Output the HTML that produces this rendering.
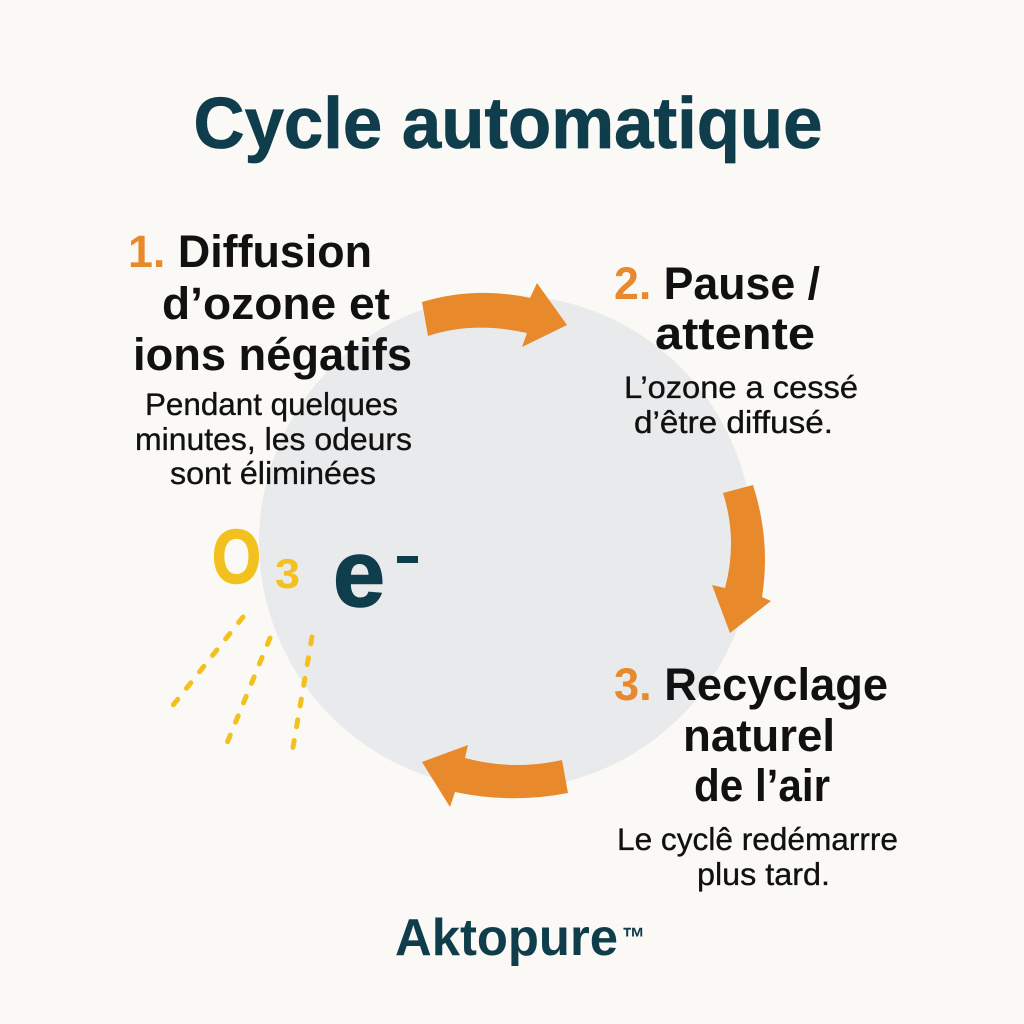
<!DOCTYPE html>
<html>
<head>
<meta charset="utf-8">
<style>
  html,body{margin:0;padding:0;background:#faf9f6;}
  svg{display:block;}
  .h{font-family:"Liberation Sans",Arial,sans-serif;font-weight:bold;font-size:45px;fill:#111;}
  .s{font-family:"Liberation Sans",Arial,sans-serif;font-size:31.5px;fill:#111;stroke:#111;stroke-width:0.35px;}
  .o{fill:#e8892b;}
</style>
</head>
<body>
<svg width="1024" height="1024" viewBox="0 0 1024 1024" xmlns="http://www.w3.org/2000/svg">
  <rect x="0" y="0" width="1024" height="1024" fill="#faf9f6"/>
  <!-- central circle -->
  <circle cx="506" cy="542" r="247" fill="#e9eaec"/>

  <!-- title -->
  <text x="508" y="148" text-anchor="middle" textLength="629" lengthAdjust="spacingAndGlyphs"
        style="font-family:'Liberation Sans',Arial,sans-serif;font-weight:bold;font-size:72px;fill:#0f3d4c;stroke:#0f3d4c;stroke-width:0.8px;">Cycle automatique</text>

  <!-- arrows -->
  <path d="M422,302 Q475,286 530,298 L537,283 L567,325 L522,347 L527,333 Q473,321 428,336 Z" fill="#e8892b"/>
  <path d="M723,493 L753,485 Q771,541 762,597 L771,601 L730,633 L712,585 L725,588 Q738,540 723,493 Z" fill="#e8892b"/>
  <path d="M562,760 Q513,771 465,758 L468,745 L422,762 L450,807 L455,792 Q511,804 568,793 Z" fill="#e8892b"/>

  <!-- step 1 -->
  <text class="h" x="250" y="267" text-anchor="middle" textLength="244" lengthAdjust="spacingAndGlyphs"><tspan class="o">1.</tspan> Diffusion</text>
  <text class="h" x="276" y="319" text-anchor="middle" textLength="228" lengthAdjust="spacingAndGlyphs">d’ozone et</text>
  <text class="h" x="272.5" y="370" text-anchor="middle" textLength="279" lengthAdjust="spacingAndGlyphs">ions négatifs</text>
  <text class="s" x="271.5" y="415" text-anchor="middle" textLength="253" lengthAdjust="spacingAndGlyphs">Pendant quelques</text>
  <text class="s" x="273.5" y="450" text-anchor="middle" textLength="277" lengthAdjust="spacingAndGlyphs">minutes, les odeurs</text>
  <text class="s" x="273" y="484" text-anchor="middle" textLength="206" lengthAdjust="spacingAndGlyphs">sont éliminées</text>

  <!-- step 2 -->
  <text class="h" x="717" y="299" text-anchor="middle" textLength="206" lengthAdjust="spacingAndGlyphs"><tspan class="o">2.</tspan> Pause /</text>
  <text class="h" x="735" y="349" text-anchor="middle" textLength="160" lengthAdjust="spacingAndGlyphs">attente</text>
  <text class="s" x="741" y="398" text-anchor="middle" textLength="234" lengthAdjust="spacingAndGlyphs">L’ozone a cessé</text>
  <text class="s" x="733.5" y="433" text-anchor="middle" textLength="199" lengthAdjust="spacingAndGlyphs">d’être diffusé.</text>

  <!-- step 3 -->
  <text class="h" x="751" y="700" text-anchor="middle" textLength="274" lengthAdjust="spacingAndGlyphs"><tspan class="o">3.</tspan> Recyclage</text>
  <text class="h" x="759" y="751" text-anchor="middle" textLength="152" lengthAdjust="spacingAndGlyphs">naturel</text>
  <text class="h" x="762" y="801" text-anchor="middle" textLength="136" lengthAdjust="spacingAndGlyphs">de l’air</text>
  <text class="s" x="757.5" y="850" text-anchor="middle" textLength="281" lengthAdjust="spacingAndGlyphs">Le cyclê redémarrre</text>
  <text class="s" x="763.5" y="885" text-anchor="middle" textLength="133" lengthAdjust="spacingAndGlyphs">plus tard.</text>

  <!-- O3 and e- -->
  <text x="212" y="583" textLength="49" lengthAdjust="spacingAndGlyphs"
        style="font-family:'Liberation Sans',Arial,sans-serif;font-weight:bold;font-size:76px;fill:#f3c11f;stroke:#f3c11f;stroke-width:1.5px;">O</text>
  <text x="275" y="588" textLength="25" lengthAdjust="spacingAndGlyphs"
        style="font-family:'Liberation Sans',Arial,sans-serif;font-weight:bold;font-size:42px;fill:#f3c11f;">3</text>
  <text x="333" y="606" textLength="52" lengthAdjust="spacingAndGlyphs"
        style="font-family:'Liberation Sans',Arial,sans-serif;font-weight:bold;font-size:95px;fill:#0f3d4c;stroke:#0f3d4c;stroke-width:1.5px;">e</text>
  <rect x="397" y="556" width="21" height="7" fill="#0f3d4c"/>

  <!-- dashed rays -->
  <g stroke="#f3c11f" stroke-width="5" stroke-linecap="round" stroke-dasharray="7 14" fill="none">
    <line x1="243" y1="617" x2="170" y2="709"/>
    <line x1="270" y1="638" x2="225" y2="748"/>
    <line x1="312" y1="637" x2="292" y2="753"/>
  </g>

  <!-- brand -->
  <text x="395" y="955" textLength="223" lengthAdjust="spacingAndGlyphs"
        style="font-family:'Liberation Sans',Arial,sans-serif;font-weight:bold;font-size:52px;fill:#0f3d4c;">Aktopure</text>
  <text x="622" y="947" textLength="23" lengthAdjust="spacingAndGlyphs"
        style="font-family:'Liberation Sans',Arial,sans-serif;font-weight:bold;font-size:28px;fill:#0f3d4c;">™</text>
</svg>
</body>
</html>
